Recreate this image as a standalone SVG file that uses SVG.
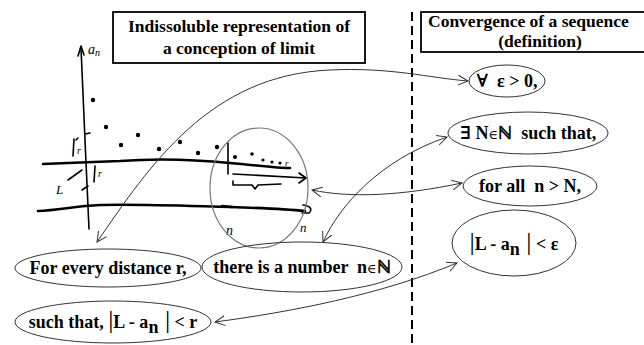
<svg xmlns="http://www.w3.org/2000/svg" width="644" height="345" viewBox="0 0 644 345">
<style>
.t{font-family:"Liberation Serif","DejaVu Serif",serif;font-weight:bold;fill:#000}
.ttl{font-size:17.5px}
.nt{font-size:18px}
.el{fill:none;stroke:#333;stroke-width:1}
.box{fill:#fff;stroke:#000;stroke-width:1.8}
.con{fill:none;stroke:#333;stroke-width:1}
.hd{fill:none;stroke:#000;stroke-width:2.6;stroke-linecap:round;stroke-linejoin:round}
.hn{fill:none;stroke:#000;stroke-width:1.6;stroke-linecap:round;stroke-linejoin:round}
.hw{font-family:"Liberation Serif","DejaVu Serif",serif;font-style:italic;fill:#000}
</style>
<defs>
<marker id="ah" markerUnits="userSpaceOnUse" markerWidth="12" markerHeight="12" refX="10" refY="5" orient="auto-start-reverse" viewBox="0 0 12 10">
<path d="M0,0 L10,5 L0,10" fill="none" stroke="#333" stroke-width="1"/>
</marker>
</defs>
<rect width="644" height="345" fill="#fff"/>

<line id="divider" x1="412" y1="12" x2="412" y2="345" stroke="#000" stroke-width="2" stroke-dasharray="9,5"/>

<g id="title-left">
<rect class="box" x="113" y="12" width="252" height="51"/>
<text class="t ttl" x="239" y="32" text-anchor="middle">Indissoluble representation of</text>
<text class="t ttl" x="239" y="54" text-anchor="middle">a conception of limit</text>
</g>
<g id="title-right">
<rect class="box" x="421" y="12" width="240" height="40"/>
<text class="t ttl" x="428" y="27" font-size="18.5">Convergence of a sequence</text>
<text class="t ttl" x="540" y="47" text-anchor="middle">(definition)</text>
</g>

<g id="sketch">
<path class="hn" d="M81,48 L85,140 L89,229"/>
<path class="hn" d="M78,56 L81,46 L84,55"/>
<text class="hw" x="88" y="54" font-size="14">a<tspan font-size="10" dy="2">n</tspan></text>
<g fill="#000">
<circle cx="93" cy="100" r="2.2"/><circle cx="106" cy="127" r="2.2"/><circle cx="121" cy="145" r="2.2"/>
<circle cx="138" cy="135" r="2.2"/><circle cx="159" cy="149" r="2.2"/><circle cx="180" cy="142" r="2.2"/>
<circle cx="198" cy="153" r="2.2"/><circle cx="217" cy="147" r="2.2"/><circle cx="235" cy="157" r="2"/>
<circle cx="252" cy="154" r="1.8"/><circle cx="263" cy="160" r="1.6"/><circle cx="272" cy="162" r="1.6"/><circle cx="280" cy="163" r="1.6"/>
</g>
<text class="hw" x="285" y="166" font-size="9">r</text>
<path class="hd" d="M43,164 C70,163 90,162 120,161 C160,158 200,160 230,163 C255,165 275,168 290,168"/>
<path class="hd" d="M38,211 C60,210 75,206 100,205 C140,204 190,206 230,207 C260,208 285,209 305,211"/>
<path class="hn" d="M303,205 C310,206 313,209 309,213 L302,213"/>
<path class="hn" d="M228,143 L228,174"/>
<path class="hd" d="M222,206 L232,207"/>
<path class="hn" d="M233,174 L306,178 M299,173 L306,178 L299,183"/>
<path class="hn" d="M233,181 L233,185 L252,185 L255,189 L258,185 L281,184"/>
<path class="hn" d="M74,139 L73,156 M76,140 L78,138"/>
<text class="hw" x="77" y="154" font-size="10">r</text>
<path class="hn" d="M85,134 L90,133"/>
<path class="hn" d="M95,166 L94,182"/>
<text class="hw" x="98" y="177" font-size="10">r</text>
<path class="hn" d="M68,180 L82,170"/>
<text class="hw" x="56" y="194" font-size="13">L</text>
<path class="hn" d="M82,190 L88,186"/>
<text class="hw" x="226" y="235" font-size="14">n</text>
<text class="hw" x="300" y="232" font-size="13">n</text>
<ellipse cx="259" cy="188" rx="49" ry="60" fill="none" stroke="#777" stroke-width="1.2"/>
</g>

<g id="connectors">
<path class="con" d="M97,242 C150,165 210,75 330,70 C390,67 430,78 468,81" marker-start="url(#ah)" marker-end="url(#ah)"/>
<path class="con" d="M323,242 C340,205 380,160 447,137" marker-start="url(#ah)" marker-end="url(#ah)"/>
<path class="con" d="M312,190 C350,198 400,196 462,183" marker-start="url(#ah)" marker-end="url(#ah)"/>
<path class="con" d="M215,322 C290,312 380,295 457,263" marker-start="url(#ah)" marker-end="url(#ah)"/>
</g>

<g id="node-forall">
<ellipse class="el" cx="507" cy="81" rx="38" ry="16"/>
<text class="t nt" x="507" y="87" text-anchor="middle" xml:space="preserve">∀  ε &gt; 0,</text>
</g>
<g id="node-exists">
<ellipse class="el" cx="528" cy="133" rx="80" ry="21"/>
<text class="t nt" x="528" y="139" text-anchor="middle" xml:space="preserve">∃ N<tspan font-size="13" font-weight="normal">∈</tspan>ℕ  such that,</text>
</g>
<g id="node-forall-n">
<ellipse class="el" cx="530" cy="186" rx="67" ry="20"/>
<text class="t nt" x="530" y="192" text-anchor="middle" xml:space="preserve">for all  n &gt; N,</text>
</g>
<g id="node-abs-eps">
<ellipse class="el" cx="514" cy="243" rx="62" ry="33"/>
<text class="t nt" x="514" y="250" text-anchor="middle" xml:space="preserve"><tspan font-size="26" font-weight="normal">|</tspan>L - a<tspan dy="5">n</tspan><tspan dy="-5" font-size="26" font-weight="normal"> |</tspan> &lt; ε</text>
</g>
<g id="node-every-r">
<ellipse class="el" cx="108" cy="268" rx="93" ry="19"/>
<text class="t nt" x="108" y="274" text-anchor="middle">For every distance r,</text>
</g>
<g id="node-number">
<ellipse class="el" cx="302" cy="267" rx="100" ry="25"/>
<text class="t nt" x="302" y="273" text-anchor="middle" xml:space="preserve">there is a number  n<tspan font-size="13" font-weight="normal">∈</tspan>ℕ</text>
</g>
<g id="node-such-that">
<ellipse class="el" cx="113" cy="322" rx="98" ry="21"/>
<text class="t nt" x="113" y="328" text-anchor="middle" xml:space="preserve">such that, <tspan font-size="26" font-weight="normal">|</tspan>L - a<tspan dy="5">n</tspan><tspan dy="-5" font-size="26" font-weight="normal"> |</tspan> &lt; r</text>
</g>
</svg>
